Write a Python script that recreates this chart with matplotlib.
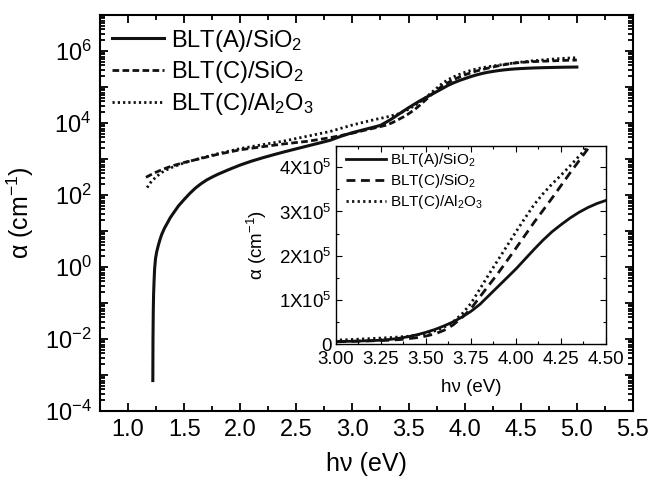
import numpy as np
import matplotlib
matplotlib.use("Agg")
import matplotlib.pyplot as plt
from matplotlib.ticker import LogLocator, MultipleLocator, NullFormatter, FixedLocator

plt.rcParams['font.family'] = ['Liberation Sans', 'DejaVu Sans']
plt.rcParams['mathtext.fontset'] = 'custom'
plt.rcParams['mathtext.rm'] = 'Liberation Sans'
plt.rcParams['mathtext.it'] = 'Liberation Sans:italic'
plt.rcParams['mathtext.bf'] = 'Liberation Sans:bold'

# Absorption coefficient alpha (cm^-1) versus photon energy (eV)
energy_A = [1.221, 1.2225, 1.225, 1.228, 1.232, 1.237, 1.245, 1.255, 1.27, 1.285,
            1.30, 1.325, 1.35, 1.375, 1.40, 1.45, 1.50, 1.55, 1.60, 1.65, 1.70,
            1.75, 1.80, 1.90, 2.0, 2.1, 2.2, 2.3, 2.4, 2.5, 2.6, 2.7, 2.8, 2.9,
            3.0, 3.1, 3.2, 3.25, 3.30, 3.35, 3.40, 3.45, 3.50, 3.55, 3.60, 3.65,
            3.70, 3.75, 3.80, 3.85, 3.90, 3.95, 4.00, 4.05, 4.10, 4.15, 4.20,
            4.25, 4.30, 4.35, 4.40, 4.45, 4.50, 4.60, 4.70, 4.80, 4.90, 5.00]
alpha_A = [7e-4, 0.01, 0.06, 0.18, 0.4, 0.9, 1.7, 2.6, 4.0, 5.8,
           8.0, 12, 16.5, 23, 30, 50, 75, 110, 155, 205, 260,
           315, 375, 510, 680, 870, 1080, 1320, 1600, 1920, 2300, 2750, 3300, 4300,
           5400, 6500, 7800, 8600, 1.05e4, 1.3e4, 1.65e4, 2.1e4, 2.65e4, 3.3e4, 4.1e4, 5.0e4,
           6.1e4, 7.4e4, 9.0e4, 1.1e5, 1.3e5, 1.5e5, 1.7e5, 1.92e5, 2.14e5, 2.35e5, 2.54e5,
           2.7e5, 2.85e5, 2.98e5, 3.09e5, 3.18e5, 3.25e5, 3.36e5, 3.44e5, 3.5e5, 3.55e5, 3.58e5]

energy_C_SiO2 = [1.16, 1.20, 1.25, 1.30, 1.35, 1.40, 1.50, 1.60, 1.80, 2.0, 2.2, 2.4,
                 2.6, 2.8, 3.0, 3.1, 3.2, 3.3, 3.35, 3.4, 3.45, 3.5, 3.55, 3.6, 3.65,
                 3.7, 3.75, 3.8, 3.9, 4.0, 4.1, 4.2, 4.3, 4.4, 4.45, 4.5, 4.6, 4.7,
                 4.8, 4.9, 5.0]
alpha_C_SiO2 = [310, 360, 430, 500, 575, 650, 800, 950, 1350, 1800, 2200, 2650,
                3100, 3900, 5200, 6200, 7300, 8700, 1.0e4, 1.2e4, 1.45e4, 1.8e4, 2.3e4, 3.1e4, 4.3e4,
                6.0e4, 8.0e4, 1.07e5, 1.6e5, 2.17e5, 2.75e5, 3.3e5, 3.87e5, 4.42e5, 4.65e5, 4.82e5, 5.05e5, 5.2e5,
                5.35e5, 5.5e5, 5.6e5]

energy_C_Al2O3 = [1.17, 1.20, 1.25, 1.30, 1.35, 1.40, 1.50, 1.60, 1.80, 2.0, 2.2, 2.4,
                  2.6, 2.8, 3.0, 3.1, 3.2, 3.3, 3.4, 3.5, 3.55, 3.6, 3.65, 3.7, 3.75,
                  3.8, 3.85, 3.9, 3.95, 4.0, 4.05, 4.1, 4.15, 4.2, 4.25, 4.3, 4.35,
                  4.4, 4.5, 4.6, 4.7, 4.8, 4.9, 5.0]
alpha_C_Al2O3 = [160, 220, 320, 420, 510, 600, 780, 960, 1400, 1950, 2500, 3200,
                 4300, 5800, 8800, 1.05e4, 1.25e4, 1.45e4, 1.75e4, 2.4e4, 3.0e4, 3.8e4, 5.0e4, 6.8e4, 9.2e4,
                 1.25e5, 1.58e5, 1.9e5, 2.22e5, 2.54e5, 2.85e5, 3.15e5, 3.4e5, 3.62e5, 3.82e5, 4.03e5, 4.25e5,
                 4.47e5, 4.9e5, 5.3e5, 5.65e5, 6.0e5, 6.3e5, 6.5e5]

labels = [r'BLT(A)/SiO$_\mathregular{2}$',
          r'BLT(C)/SiO$_\mathregular{2}$',
          r'BLT(C)/Al$_\mathregular{2}$O$_\mathregular{3}$']

main_xticks = [1.0, 1.5, 2.0, 2.5, 3.0, 3.5, 4.0, 4.5, 5.0, 5.5]
main_yexps = list(range(-4, 7))
inset_xticks = [3.00, 3.25, 3.50, 3.75, 4.00, 4.25, 4.50]
inset_yticks = [0, 1e5, 2e5, 3e5, 4e5]
inset_yticklabels = ['0', r'$\mathregular{1X10^{5}}$', r'$\mathregular{2X10^{5}}$',
                     r'$\mathregular{3X10^{5}}$', r'$\mathregular{4X10^{5}}$']

series = [(energy_A, alpha_A), (energy_C_SiO2, alpha_C_SiO2), (energy_C_Al2O3, alpha_C_Al2O3)]
styles_main = [dict(ls='-', lw=2.2),
               dict(ls=(0, (2.4, 1.2)), lw=2.0),
               dict(ls=(0, (0.8, 1.1)), lw=2.0)]
styles_inset = [dict(ls='-', lw=2.0),
                dict(ls=(0, (3.2, 2.0)), lw=2.0),
                dict(ls=(0, (0.8, 1.2)), lw=2.0)]

fig = plt.figure(figsize=(6.53, 4.88), dpi=100)
ax = fig.add_axes([0.1531, 0.1578, 0.8162, 0.8115])

for (e, a), st, lab in zip(series, styles_main, labels):
    ax.plot(e, a, color='#111111', label=lab, dash_capstyle='butt', **st)

ax.set_yscale('log')
ax.set_xlim(0.75, 5.5)
ax.set_ylim(1e-4, 1e7)
ax.set_xticks(main_xticks)
ax.set_xticklabels([f'{v:.1f}' for v in main_xticks])
ax.xaxis.set_minor_locator(MultipleLocator(0.25))
ax.yaxis.set_major_locator(FixedLocator([10.0 ** k for k in main_yexps]))
ax.set_yticklabels([r'$\mathregular{10^{%d}}$' % k if k % 2 == 0 else '' for k in main_yexps])
ax.yaxis.set_minor_locator(LogLocator(base=10, subs=np.arange(2, 10), numticks=100))
ax.yaxis.set_minor_formatter(NullFormatter())
ax.tick_params(which='both', direction='in', top=True, right=True, width=1.3, labelsize=17)
ax.tick_params(which='major', length=6, pad=6)
ax.tick_params(which='minor', length=3.5)
for s in ax.spines.values():
    s.set_linewidth(1.5)
ax.set_xlabel('hν (eV)', fontsize=18, labelpad=8)
ax.set_ylabel('α (cm$^{\\mathregular{-1}}$)', fontsize=18, labelpad=6)
ax.legend(loc='upper left', frameon=False, fontsize=17, handlelength=2.2,
          handletextpad=0.3, labelspacing=0.24, borderaxespad=0.0,
          bbox_to_anchor=(0.005, 0.992))

# Inset: linear scale near the absorption edge
ins = fig.add_axes([0.5145, 0.295, 0.4135, 0.4057])
for (e, a), st, lab in zip(series, styles_inset, labels):
    ins.plot(e, a, color='#111111', label=lab, dash_capstyle='butt', **st)
ins.set_xlim(3.0, 4.5)
ins.set_ylim(0, 4.48e5)
ins.set_xticks(inset_xticks)
ins.set_xticklabels([f'{v:.2f}' for v in inset_xticks])
ins.xaxis.set_minor_locator(MultipleLocator(0.125))
ins.set_yticks(inset_yticks)
ins.set_yticklabels(inset_yticklabels)
ins.yaxis.set_minor_locator(MultipleLocator(0.5e5))
ins.tick_params(which='both', direction='in', top=True, right=True, width=0.8, labelsize=13.5)
ins.tick_params(which='major', length=4, pad=3)
ins.tick_params(axis='x', which='major', pad=5)
ins.tick_params(which='minor', length=2.5)
for s in ins.spines.values():
    s.set_linewidth(1.0)
ins.set_xlabel('hν (eV)', fontsize=13.5, labelpad=8)
ins.set_ylabel('α (cm$^{\\mathregular{-1}}$)', fontsize=13.5, labelpad=7)
ins.legend(loc='upper left', frameon=False, fontsize=11, handlelength=2.6,
           handletextpad=0.3, labelspacing=0.2, borderaxespad=0.0,
           bbox_to_anchor=(0.015, 1.005))

fig.savefig('out.png', dpi=100)
